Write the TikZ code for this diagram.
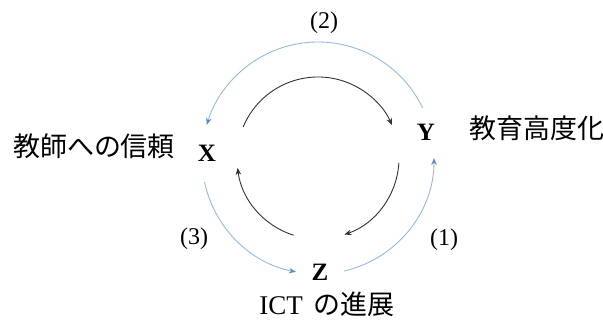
\documentclass[tikz,border=0pt]{standalone}
\usepackage{fontspec}
\setmainfont{Liberation Serif}
\newfontfamily\jafont{Noto Sans CJK JP}
\usetikzlibrary{arrows.meta}
\definecolor{arcblue}{RGB}{150,185,220}
\definecolor{tipblue}{RGB}{90,140,200}
\definecolor{arcdark}{RGB}{50,50,50}
\tikzset{
  var/.style={font=\fontsize{25}{25}\selectfont\bfseries, inner sep=0pt},
  lab/.style={font=\fontsize{24}{24}\selectfont, inner sep=0pt},
  jp/.style={font=\fontsize{27}{27}\selectfont, inner sep=0pt},
  outer/.style={draw=arcblue, line width=0.9pt, -{Stealth[length=7pt,width=5.5pt,color=tipblue]}},
  inner/.style={draw=arcdark, line width=0.9pt, -{Stealth[length=7pt,width=5.5pt]}}
}
\begin{document}
\begin{tikzpicture}[x=1pt,y=1pt]
\useasboundingbox (0,0) rectangle (603,323);
\coordinate (c) at (318,165);
% variable nodes
\node[var] (X) at (207,170) {X};
\node[var] (Y) at (426,191) {Y};
\node[var] (Z) at (320,51) {Z};
% labels
\node[lab] (l2) at (324,300) {(2)};
\node[lab] (l3) at (194,84) {(3)};
\node[lab] (l1) at (444,83) {(1)};
\node[jp] (tX) at (94,177) {\jafont 教師への信頼};
\node[jp] (tY) at (537,195) {\jafont 教育高度化};
\node[inner sep=0pt, anchor=base] (tZ) at (327,8.5) {\fontsize{27}{27}\selectfont ICT\hspace{0.4em}\jafont の進展};
% outer arcs
\draw[outer] (c) ++(25.7:116) arc[start angle=25.7, end angle=163.4, radius=116];
\draw[outer] (c) ++(192:116) arc[start angle=192, end angle=259, radius=116];
\draw[outer] (c) ++(283:116) arc[start angle=283, end angle=360, radius=116];
% inner arcs
\draw[inner] (c) ++(157.5:81) arc[start angle=157.5, end angle=24, radius=81];
\draw[inner] (c) ++(356.5:81) arc[start angle=356.5, end angle=289, radius=81];
\draw[inner] (c) ++(252.5:81) arc[start angle=252.5, end angle=187, radius=81];
\end{tikzpicture}
\end{document}
